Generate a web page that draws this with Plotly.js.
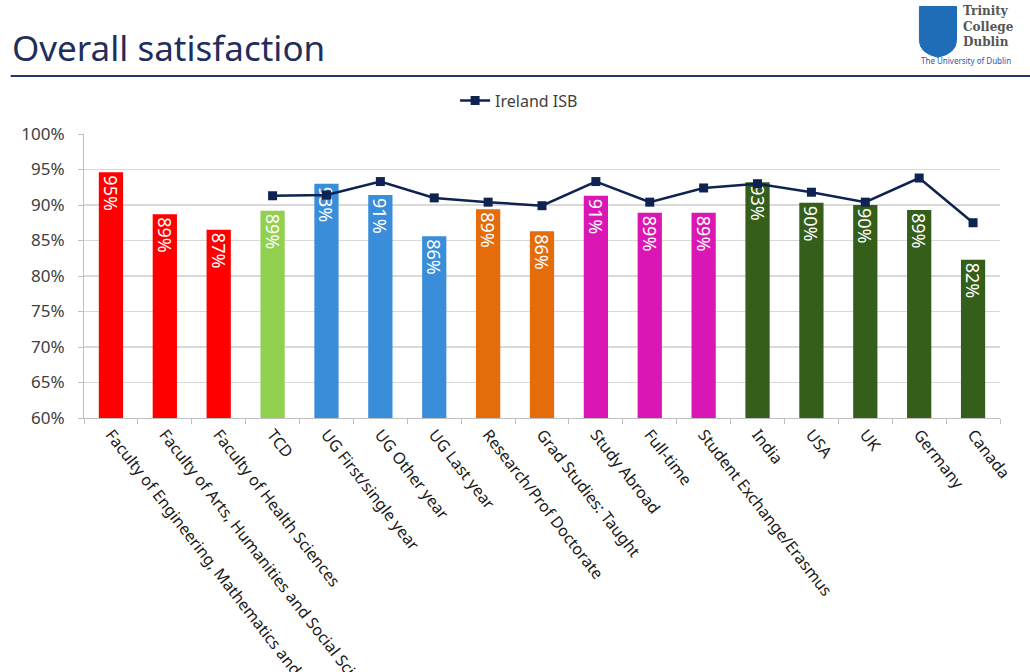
<!DOCTYPE html>
<html><head><meta charset="utf-8">
<script src="https://cdn.plot.ly/plotly-3.0.1.min.js"></script>
<style>body{margin:0;background:#fff}#chart{width:1030px;height:672px}</style>
</head><body><div id="chart"></div>
<script>
const categories = ["Faculty of Engineering, Mathematics and Science","Faculty of Arts, Humanities and Social Sciences","Faculty of Health Sciences","TCD","UG First/single year","UG Other year","UG Last year","Research/Prof Doctorate","Grad Studies: Taught","Study Abroad","Full-time","Student Exchange/Erasmus","India","USA","UK","Germany","Canada"];
const tcdValues = [94.6,88.7,86.5,89.2,93.0,91.4,85.6,89.4,86.3,91.3,88.9,88.9,93.2,90.3,90.0,89.3,82.3];
const irelandISB = [null,null,null,91.3,91.4,93.3,91.0,90.4,89.9,93.3,90.4,92.4,93.0,91.8,90.4,93.8,87.5];
const groupColors = ["#FF0000","#FF0000","#FF0000","#92D050","#3A8DD8","#3A8DD8","#3A8DD8","#E46C0A","#E46C0A","#DA17B5","#DA17B5","#DA17B5","#355E1A","#355E1A","#355E1A","#355E1A","#355E1A"];
const yTicks = [0.60,0.65,0.70,0.75,0.80,0.85,0.90,0.95,1.00];

const bars = {
  type:'bar', x:categories, y:tcdValues.map(v=>v/100),
  marker:{color:groupColors}, width:0.45, showlegend:false,
  text:tcdValues.map(v=>Math.round(v)+'%'), textposition:'inside', insidetextanchor:'end',
  textangle:90, constraintext:'none', cliponaxis:false,
  textfont:{color:'#FFFFFF', size:18, family:'Noto Sans'}, hoverinfo:'skip'
};
const line = {
  type:'scatter', mode:'lines+markers', name:'Ireland ISB', x:categories,
  y:irelandISB.map(v=>v==null?null:v/100), connectgaps:false,
  line:{color:'#0E2352', width:2.5}, marker:{symbol:'square', size:9, color:'#0E2352'}
};

const layout = {
  width:1030, height:672, paper_bgcolor:'#fff', plot_bgcolor:'#fff',
  margin:{l:84, r:30, t:134, b:254},
  font:{family:'Noto Sans', color:'#404040'},
  showlegend:true,
  legend:{orientation:'h', x:0.475, xanchor:'center', y:1.118, yanchor:'middle', font:{size:16, color:'#404040'}, bgcolor:'rgba(0,0,0,0)'},
  xaxis:{type:'category', range:[-0.5,16.5], tickangle:52, automargin:false, tickfont:{size:16, color:'#1a1a1a'},
    showline:true, linecolor:'#BFBFBF', linewidth:1, ticks:'outside', ticklen:5, tickcolor:'#BFBFBF', tickson:'boundaries', showgrid:false},
  yaxis:{range:[0.6,1.0], tickvals:yTicks, tickformat:'.0%', automargin:false, tickfont:{size:17, color:'#404040'},
    ticklabelstandoff:10,
    showgrid:true, gridcolor:'#D9D9D9', gridwidth:1.5, showline:true, linecolor:'#BFBFBF', ticks:'outside', ticklen:5, tickcolor:'#BFBFBF', zeroline:false},
  shapes:[
    {type:'line', xref:'paper', yref:'paper', x0:-0.08, x1:1.04, y0:1.0+(134-76)/284, y1:1.0+(134-76)/284, line:{color:'#1F3864', width:2}},
    {type:'path', xref:'paper', yref:'paper',
     path:'M 0.912 1.449 L 0.9525 1.449 L 0.9525 1.33 Q 0.9525 1.285 0.9322 1.27 Q 0.912 1.285 0.912 1.33 Z',
     fillcolor:'#1F6CB7', line:{color:'#1F6CB7', width:1}}
  ],
  annotations:[
    {text:'Overall satisfaction', xref:'paper', yref:'paper', x:-0.081, y:1.0+(134-47)/284, xanchor:'left', yanchor:'middle', showarrow:false, font:{size:35, color:'#1F2E5C', family:'Noto Sans'}},
    {text:'<b>Trinity<br>College<br>Dublin</b>', xref:'paper', yref:'paper', x:0.957, y:1.0+(134-27)/284, xanchor:'left', yanchor:'middle', align:'left', showarrow:false, font:{size:12, color:'#555555', family:'DejaVu Serif'}},
    {text:'The University of Dublin', xref:'paper', yref:'paper', x:0.912, y:1.0+(134-60)/284, xanchor:'left', yanchor:'middle', showarrow:false, font:{size:8, color:'#2062B0', family:'Noto Sans'}}
  ]
};
Plotly.newPlot('chart',[bars,line],layout,{displayModeBar:false, staticPlot:true});
</script></body></html>
